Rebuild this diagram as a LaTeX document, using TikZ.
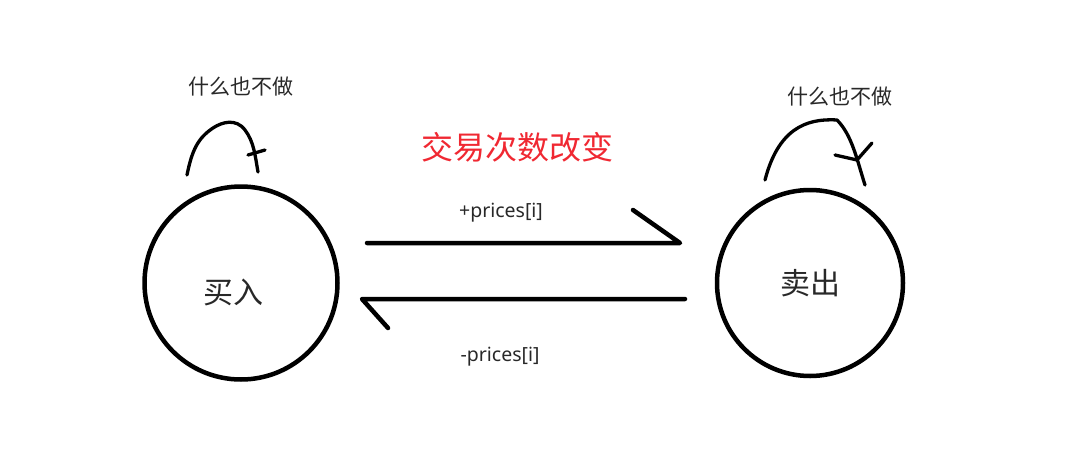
\documentclass[tikz,border=0pt]{standalone}
\usepackage{fontspec}
\setmainfont{Noto Sans}
\newfontfamily\cjk{Noto Sans CJK SC}
\usetikzlibrary{positioning}
\definecolor{ink}{RGB}{0,0,0}
\definecolor{txt}{RGB}{40,40,40}
\definecolor{hot}{RGB}{240,40,50}

\begin{document}
\begin{tikzpicture}[x=1pt,y=-1pt,line cap=round,line join=round,
st/.style={circle,draw=ink,line width=4.5pt,inner sep=0pt},
lbl/.style={text=txt,font=\fontsize{19.5}{22}\selectfont},
cn/.style={text=txt,font=\cjk\fontsize{21}{24}\selectfont},
pen/.style={draw=ink,line width=4.5pt},
loop/.style={draw=ink,line width=3.3pt}]
\useasboundingbox (0,0) rectangle (1079,458);
\node[st,minimum size=193] (buy) at (241,283) {};
\node[st,minimum size=186] (sell) at (810,283) {};
\node[text=txt,font=\cjk\fontsize{30}{34}\selectfont] (buyt) at (233,292) {买入};
\node[text=txt,font=\cjk\fontsize{30}{34}\selectfont] (sellt) at (810,283) {卖出};
\node[cn] (buyl) at (241,87) {什么也不做};
\node[cn] (selll) at (840,97) {什么也不做};
\node[text=hot,font=\cjk\fontsize{32}{36}\selectfont] (chg) at (517,147) {交易次数改变};
\node[lbl] (pl) at (501,213) {+prices[i]};
\node[lbl] (mi) at (500,357) {-prices[i]};
% arrows between the states
\coordinate (a1) at (367,243); \coordinate (a2) at (680,243);
\coordinate (b1) at (685,299); \coordinate (b2) at (362,299);
\draw[pen] (a1) -- (a2) -- ++(-47,-33);
\draw[pen] (b1) -- (b2) -- ++(26,29);
% self loops
\draw[loop] (187,175) .. controls (192,150) and (198,138) .. (213,128)
  .. controls (222,122) and (236,118) .. (245,130)
  .. controls (254,142) and (255,155) .. (258,172);
\draw[loop] (248,155) -- (265,150);
\draw[loop] (765,180) .. controls (778,130) and (805,118) .. (837,120)
  .. controls (852,135) and (857,160) .. (865,185);
\draw[loop] (835,155) -- (857,160) -- (872,143);
\end{tikzpicture}
\end{document}
